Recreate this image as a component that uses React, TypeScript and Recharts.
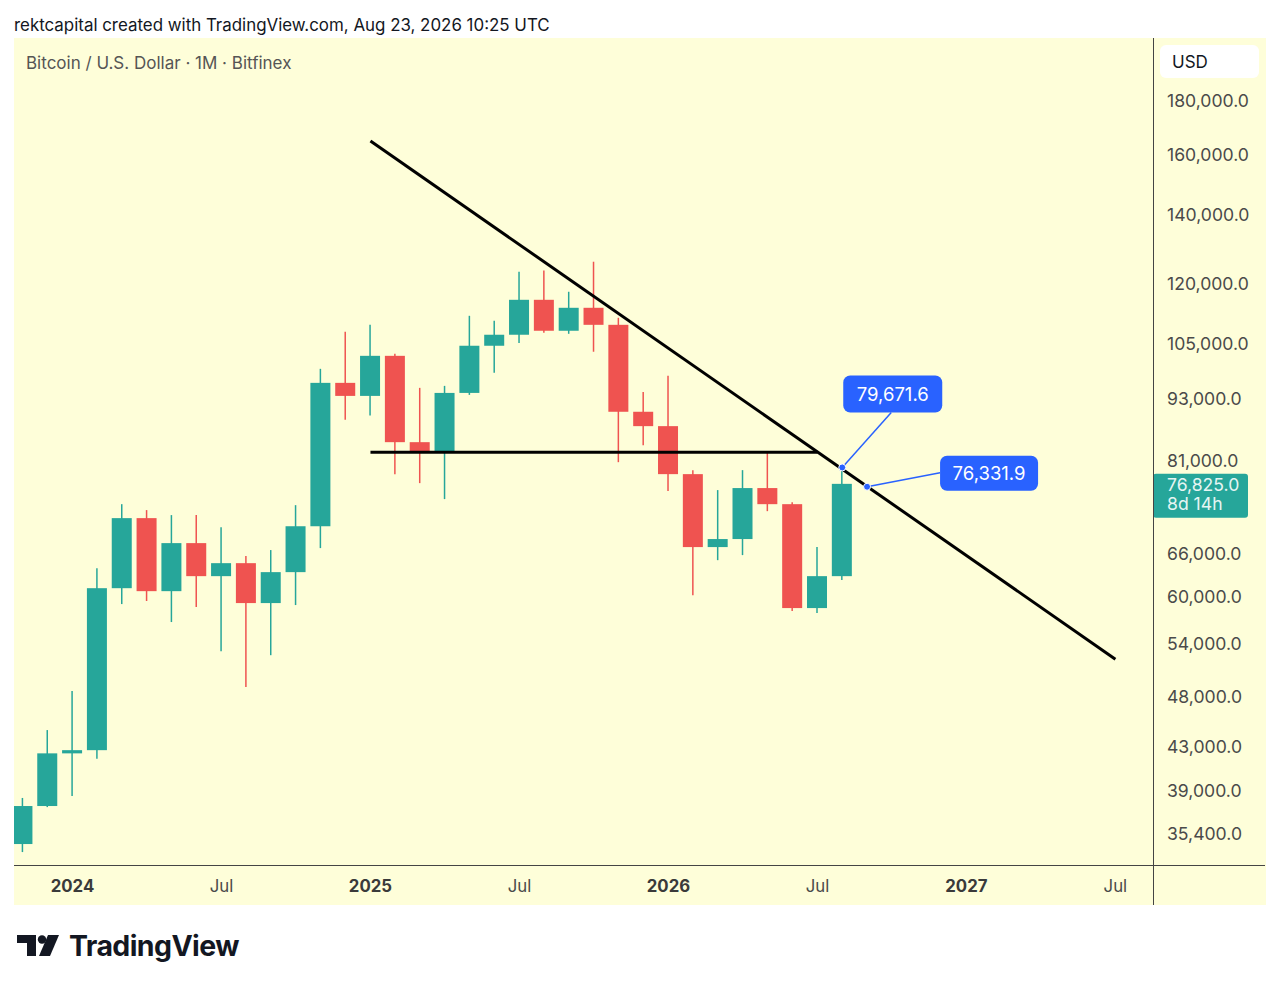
import { ComposedChart, Bar, XAxis, YAxis, ReferenceLine, ReferenceDot } from "recharts";

// monthly candles, Nov 2023 .. Aug 2026 (index 0 = Jan 2024)
const months = [
  "2023-11", "2023-12",
  "2024-01", "2024-02", "2024-03", "2024-04", "2024-05", "2024-06",
  "2024-07", "2024-08", "2024-09", "2024-10", "2024-11", "2024-12",
  "2025-01", "2025-02", "2025-03", "2025-04", "2025-05", "2025-06",
  "2025-07", "2025-08", "2025-09", "2025-10", "2025-11", "2025-12",
  "2026-01", "2026-02", "2026-03", "2026-04", "2026-05", "2026-06",
  "2026-07", "2026-08",
];
const opens = [
  34550, 37590,
  42250, 42550, 60950, 71200, 60550, 67360, 62600, 64430, 58970, 63160, 69930, 96120,
  93380, 102060, 84270, 82420, 94000, 104370, 106950, 115570, 107900, 113540, 109330, 90150,
  87320, 78500, 66770, 67970, 76110, 73440, 58320, 62600,
];
const highs = [
  38270, 44490,
  48510, 63720, 73440, 72480, 71680, 71680, 69770, 65460, 66330, 73280, 99160, 107650,
  109330, 102530, 95060, 95480, 111540, 110330, 123000, 123300, 117650, 125760, 111050, 94200,
  97640, 79200, 75770, 79200, 82600, 73770, 66770, 79600,
];
const lows = [
  33940, 37500,
  38440, 41750, 58840, 59240, 56540, 58460, 53000, 48950, 52530, 58710, 66620, 88560,
  89400, 78500, 76950, 74270, 93590, 98290, 105000, 107420, 107170, 102990, 80610, 83710,
  75600, 60000, 64860, 65590, 72310, 57930, 57670, 62070,
];
const closes = [
  37590, 42250,
  42550, 60950, 71200, 60550, 67360, 62600, 64430, 58970, 63160, 69930, 96120, 93380,
  102060, 84270, 82420, 94000, 104370, 106950, 115570, 107900, 113540, 109330, 90150, 87320,
  78500, 66770, 67970, 76110, 73440, 58320, 62600, 76825,
];

const xTicks = [0, 6, 12, 18, 24, 30, 36, 42];
const xTickLabels = ["2024", "Jul", "2025", "Jul", "2026", "Jul", "2027", "Jul"];
const yTicks = [35400, 39000, 43000, 48000, 54000, 60000, 66000, 81000, 93000, 105000, 120000, 140000, 160000, 180000];

// drawings
const trendIdx = [12, 42];
const trendPrice = [164370, 52070];
const levelIdx = [12, 30];
const levelPrice = 82420;
const calloutIdx = [31, 32];
const calloutPrice = [79671.6, 76331.9];
const lastPrice = 76825;
const countdown = "8d 14h";

const data = months.map((m, k) => ({
  month: m,
  i: k - 2,
  open: opens[k],
  high: highs[k],
  low: lows[k],
  close: closes[k],
}));

const UP = "#26a69a";
const DOWN = "#ef5350";
const BLUE = "#2962ff";
const BG = "#fefed9";
const TEXT = "#4a4a4a";
const FONT = "Inter, 'Noto Sans', sans-serif";

const fmt = (v: number) =>
  v.toLocaleString("en-US", { minimumFractionDigits: 1, maximumFractionDigits: 1 });

const Candle = (props: any) => {
  const { x, y, width, height, payload } = props;
  const top0 = Math.min(y, y + height);
  const h = Math.abs(height);
  const { open, close, high, low } = payload;
  const color = close >= open ? UP : DOWN;
  const lh = Math.log(high);
  const ll = Math.log(low);
  const py = (p: number) => top0 + ((lh - Math.log(p)) / (lh - ll)) * h;
  const bTop = py(Math.max(open, close));
  const bBot = py(Math.min(open, close));
  const cx = x + width / 2;
  return (
    <g>
      <line x1={cx} x2={cx} y1={top0} y2={top0 + h} stroke={color} strokeWidth={1.5} />
      <rect x={x} y={bTop} width={width} height={Math.max(1.5, bBot - bTop)} fill={color} />
    </g>
  );
};

const PriceTick = (props: any) => {
  const { x, y, payload } = props;
  return (
    <text x={x + 14} y={y + 1} dy="0.36em" fill={TEXT} fontSize={17.6} fontFamily={FONT} textAnchor="start">
      {fmt(payload.value)}
    </text>
  );
};

const TimeTick = (props: any) => {
  const { x, y, index } = props;
  const label = xTickLabels[index] ?? "";
  const isYear = /^\d{4}$/.test(label);
  return (
    <text x={x} y={y + 21} dy="0.36em" fill={isYear ? "#3a3a3a" : TEXT} fontSize={16.8}
      fontWeight={isYear ? 700 : 400} fontFamily={FONT} textAnchor="middle">
      {label}
    </text>
  );
};

const makeCallout = (text: string, bx: number, by: number, bw: number, bh: number, lx: number, ly: number) =>
  (props: any) => {
    const { cx, cy } = props;
    return (
      <g>
        <line x1={cx} y1={cy} x2={cx + lx} y2={cy + ly} stroke={BLUE} strokeWidth={1.5} />
        <rect x={cx + bx} y={cy + by} width={bw} height={bh} rx={7} fill={BLUE} />
        <text x={cx + bx + bw / 2} y={cy + by + bh / 2} dy="0.36em" textAnchor="middle"
          fill="#ffffff" fontSize={18.5} fontFamily={FONT}>
          {text}
        </text>
        <circle cx={cx} cy={cy} r={3.5} fill={BLUE} stroke="#ffffff" strokeWidth={1} />
      </g>
    );
  };

const PriceTag = (props: any) => {
  const vb = props.viewBox || {};
  const x0 = vb.x + vb.width;
  const y0 = vb.y;
  return (
    <g>
      <rect x={x0} y={y0 - 10} width={95} height={44} rx={3} fill={UP} />
      <text x={x0 + 14} y={y0 + 1} dy="0.36em" fill="#e6f5f3" fontSize={17.6} fontFamily={FONT}>
        {fmt(lastPrice)}
      </text>
      <text x={x0 + 14} y={y0 + 20} dy="0.36em" fill="#e6f5f3" fontSize={17.6} fontFamily={FONT}>
        {countdown}
      </text>
    </g>
  );
};

const Logo = () => (
  <svg width={260} height={40} style={{ position: "absolute", left: 0, top: 925 }}>
    <path d="M17 10 H36 V31 H27 V18 H17 Z" fill="#131722" />
    <circle cx={42} cy={14.5} r={4.2} fill="#131722" />
    <path d="M48 10 H59 L50 31 H39 Z" fill="#131722" />
    <text x={69} y={31} fontSize={28.5} fontWeight={700} fontFamily={FONT} fill="#131722" letterSpacing={-0.6}>
      TradingView
    </text>
  </svg>
);

export default function App() {
  return (
    <div style={{ position: "absolute", left: 0, top: 0, width: 1280, height: 989, background: "#ffffff", fontFamily: FONT }}>
      <div style={{ position: "absolute", left: 14, top: 15, fontSize: 16.9, color: "#131722", whiteSpace: "nowrap" }}>
        rektcapital created with TradingView.com, Aug 23, 2026 10:25 UTC
      </div>
      <div style={{ position: "absolute", left: 14, top: 38, width: 1252, height: 867, background: BG }} />
      <div style={{ position: "absolute", left: 14, top: 38 }}>
        <ComposedChart width={1252} height={867} data={data} margin={{ top: 0, right: 0, bottom: 0, left: 0 }}>
          <XAxis dataKey="i" type="number" domain={[-2.356, 43.515]} allowDataOverflow ticks={xTicks}
            interval={0} tick={<TimeTick />} tickSize={0} tickMargin={0} axisLine={false} tickLine={false} height={40} />
          <YAxis type="number" scale="log" orientation="right" width={113} domain={[32980, 206590]} allowDataOverflow
            ticks={yTicks} interval={0} tick={<PriceTick />} tickSize={0} tickMargin={0} axisLine={false} tickLine={false} />
          <Bar dataKey={(d: any) => [d.low, d.high]} barSize={20} shape={<Candle />} isAnimationActive={false} />
          <ReferenceLine segment={[{ x: trendIdx[0], y: trendPrice[0] }, { x: trendIdx[1], y: trendPrice[1] }]}
            stroke="#000000" strokeWidth={3} />
          <ReferenceLine segment={[{ x: levelIdx[0], y: levelPrice }, { x: levelIdx[1], y: levelPrice }]}
            stroke="#000000" strokeWidth={3} />
          <ReferenceLine y={lastPrice} stroke="none" label={<PriceTag />} />
          <ReferenceDot x={calloutIdx[0]} y={calloutPrice[0]} r={4}
            shape={makeCallout(fmt(calloutPrice[0]), 1, -92, 99, 37, 49, -55)} />
          <ReferenceDot x={calloutIdx[1]} y={calloutPrice[1]} r={4}
            shape={makeCallout(fmt(calloutPrice[1]), 73, -31, 98, 35, 73, -14)} />
        </ComposedChart>
      </div>
      <div style={{ position: "absolute", left: 26, top: 53, fontSize: 17, color: "#555555", whiteSpace: "nowrap" }}>
        Bitcoin / U.S. Dollar · 1M · Bitfinex
      </div>
      <div style={{ position: "absolute", left: 1160, top: 45, width: 99, height: 33, background: "#ffffff", borderRadius: 6 }} />
      <div style={{ position: "absolute", left: 1172, top: 52, fontSize: 17, color: "#131722" }}>USD</div>
      <div style={{ position: "absolute", left: 14, top: 865, width: 1251, height: 1, background: "#444444" }} />
      <div style={{ position: "absolute", left: 1153, top: 38, width: 1, height: 867, background: "#444444" }} />
      <Logo />
    </div>
  );
}
